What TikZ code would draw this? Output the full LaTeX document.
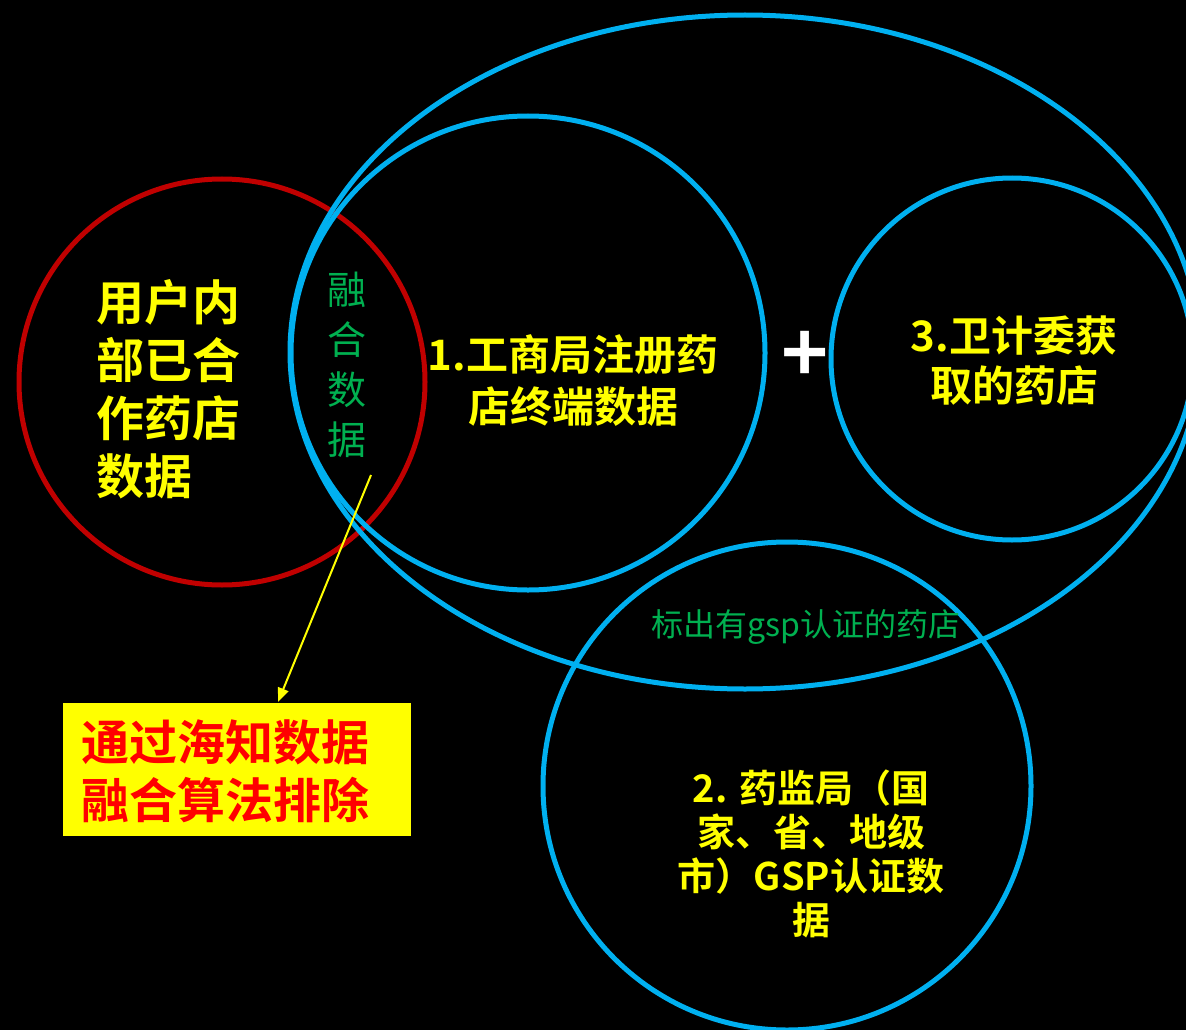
\documentclass[tikz,border=0pt]{standalone}
\usepackage{fontspec}
\newfontfamily\cjk[BoldFont={Noto Sans CJK SC Bold}]{Noto Sans CJK SC}
\usetikzlibrary{arrows.meta}
\definecolor{cblue}{HTML}{00B0F0}
\definecolor{cred}{HTML}{C00000}
\definecolor{cyel}{HTML}{FFFF00}
\definecolor{cgreen}{HTML}{00B050}
\tikzset{
  ring/.style={line width=5pt},
  ytext/.style={text=cyel, font=\cjk\bfseries, inner sep=0pt},
  gtext/.style={text=cgreen, font=\cjk, inner sep=0pt},
}
\begin{document}
\begin{tikzpicture}[x=1pt,y=-1pt]
\useasboundingbox (0,0) rectangle (1186,1030);
\fill[black] (0,0) rectangle (1186,1030);
% circles
\draw[ring, cred] (222,382) circle (203pt);
\draw[ring, cblue] (745,352) ellipse [x radius=455pt, y radius=337pt];
\draw[ring, cblue] (528,353) circle (237pt);
\draw[ring, cblue] (1012,359) circle (181pt);
\draw[ring, cblue] (787,786) circle (244pt);
% texts
\node[ytext, align=left, anchor=north west, font=\cjk\bfseries\fontsize{48}{58}\selectfont] (user) at (96,279) {用户内\\部已合\\作药店\\数据};
\node[gtext, align=center, font=\cjk\fontsize{39}{50}\selectfont] (fuse) at (347,365) {融\\合\\数\\据};
\node[ytext, align=center, font=\cjk\bfseries\fontsize{42}{52}\selectfont] (c1) at (573,381) {1.工商局注册药\\店终端数据};
\node[text=white, font=\cjk\bfseries\fontsize{80}{80}\selectfont, inner sep=0pt] (plus) at (805,357) {+};
\node[ytext, align=center, font=\cjk\bfseries\fontsize{42}{50}\selectfont] (c3) at (1014,361) {3.卫计委获\\取的药店};
\node[gtext, font=\cjk\fontsize{32}{36}\selectfont] (gsp) at (806,627) {标出有gsp认证的药店};
\node[ytext, align=center, font=\cjk\bfseries\fontsize{38}{44}\selectfont] (c2) at (811,854) {2. 药监局（国\\家、省、地级\\市）GSP认证数\\据};
\node[fill=cyel, minimum width=348pt, minimum height=133pt, inner sep=0pt] (box) at (237,769.5) {};
\node[text=red, font=\cjk\bfseries\fontsize{48}{58}\selectfont, align=left, inner sep=0pt] (boxtxt) at (225,771) {通过海知数据\\融合算法排除};
% arrow
\coordinate (astart) at (371,475);
\coordinate (aend) at (278,702);
\draw[cyel, line width=2pt, -{Triangle[length=14pt,width=11pt]}] (astart) -- (aend);
\end{tikzpicture}
\end{document}
